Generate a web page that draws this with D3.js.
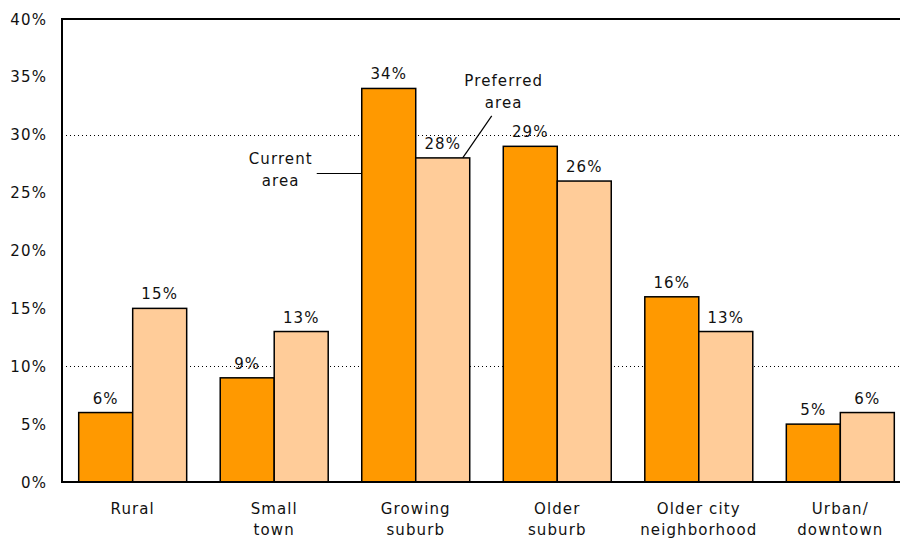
<!DOCTYPE html>
<html>
<head>
<meta charset="utf-8">
<script src="https://cdn.jsdelivr.net/npm/d3@7"></script>
<style>
  body { margin: 0; background: #fff; }
  text { font-family: "DejaVu Sans", Verdana, sans-serif; font-size: 15px; fill: #111; letter-spacing: 1.1px; }
</style>
</head>
<body>
<div id="chart"></div>
<script>
// Chart data
const categories = [["Rural"], ["Small", "town"], ["Growing", "suburb"], ["Older", "suburb"], ["Older city", "neighborhood"], ["Urban/", "downtown"]];
const seriesNames = ["Current area", "Preferred area"];
const currentArea = [6, 9, 34, 29, 16, 5];
const preferredArea = [15, 13, 28, 26, 13, 6];
const yTicks = [0, 5, 10, 15, 20, 25, 30, 35, 40];
const gridLines = [10, 30];

const colors = ["#FF9900", "#FFCC99"];

function drawBarChart() {
  const width = 900, height = 540;
  const margin = { top: 19, bottom: 58, left: 62 };

  const svg = d3.select("#chart").append("svg")
      .attr("width", width)
      .attr("height", height);

  const y = d3.scaleLinear()
      .domain([0, 40])
      .range([height - margin.bottom, margin.top]);

  // plot is wider than the window, the last group is clipped at the right
  const x = d3.scaleBand()
      .domain(d3.range(categories.length))
      .range([margin.left, 911])
      .paddingInner(0.237)
      .paddingOuter(0.118);

  const xSub = d3.scaleBand()
      .domain([0, 1])
      .range([0, x.bandwidth()]);

  // dotted grid lines
  svg.selectAll(".grid")
      .data(gridLines)
      .enter().append("line")
      .attr("x1", margin.left)
      .attr("x2", width)
      .attr("y1", d => Math.round(y(d)) + 0.5)
      .attr("y2", d => Math.round(y(d)) + 0.5)
      .attr("stroke", "#000")
      .attr("stroke-width", 1)
      .attr("stroke-dasharray", "1,3");

  // y axis labels
  svg.selectAll(".ytick")
      .data(yTicks)
      .enter().append("text")
      .attr("x", 47)
      .attr("y", d => y(d) + 5.5)
      .attr("text-anchor", "end")
      .text(d => d + "%");

  const groups = [currentArea, preferredArea];

  // bars
  groups.forEach((vals, s) => {
    svg.selectAll(".bar" + s)
        .data(vals)
        .enter().append("rect")
        .attr("x", (d, i) => x(i) + xSub(s))
        .attr("y", d => y(d))
        .attr("width", xSub.bandwidth())
        .attr("height", d => y(0) - y(d))
        .attr("fill", colors[s])
        .attr("stroke", "#000")
        .attr("stroke-width", 1.5);

    svg.selectAll(".lab" + s)
        .data(vals)
        .enter().append("text")
        .attr("x", (d, i) => x(i) + xSub(s) + xSub.bandwidth() / 2)
        .attr("y", d => y(d) - 9)
        .attr("text-anchor", "middle")
        .text(d => d + "%");
  });

  // axes frame: left and top lines, baseline
  svg.append("line")
      .attr("x1", margin.left).attr("x2", margin.left)
      .attr("y1", y(40)).attr("y2", y(0))
      .attr("stroke", "#000").attr("stroke-width", 2);
  svg.append("line")
      .attr("x1", margin.left - 1).attr("x2", width)
      .attr("y1", y(40)).attr("y2", y(40))
      .attr("stroke", "#000").attr("stroke-width", 2);
  svg.append("line")
      .attr("x1", margin.left - 1).attr("x2", width)
      .attr("y1", y(0)).attr("y2", y(0))
      .attr("stroke", "#000").attr("stroke-width", 2);

  // category labels
  categories.forEach((lines, i) => {
    const t = svg.append("text")
        .attr("x", x(i) + x.bandwidth() / 2)
        .attr("y", y(0) + 32)
        .attr("text-anchor", "middle");
    lines.forEach((l, k) => {
      t.append("tspan")
          .attr("x", x(i) + x.bandwidth() / 2)
          .attr("dy", k === 0 ? 0 : 21)
          .text(l);
    });
  });

  // series annotations on the "Growing suburb" group
  const gi = 2;
  const curX = x(gi) + xSub(0);
  const curY = Math.round(y(26.7)) + 0.5;
  svg.append("line")
      .attr("x1", curX - 45).attr("x2", curX)
      .attr("y1", curY).attr("y2", curY)
      .attr("stroke", "#000").attr("stroke-width", 1.2);
  const ct = svg.append("text").attr("text-anchor", "middle");
  ct.append("tspan").attr("x", curX - 81).attr("y", y(30) + 29).text("Current");
  ct.append("tspan").attr("x", curX - 81).attr("y", y(30) + 51).text("area");

  const prefX = x(gi) + xSub(1) + xSub.bandwidth() - 7;
  const prefY = y(preferredArea[gi]);
  svg.append("line")
      .attr("x1", prefX).attr("x2", prefX + 29)
      .attr("y1", prefY).attr("y2", prefY - 42)
      .attr("stroke", "#000").attr("stroke-width", 1.2);
  const pt = svg.append("text").attr("text-anchor", "middle");
  pt.append("tspan").attr("x", prefX + 41).attr("y", y(35) + 9).text("Preferred");
  pt.append("tspan").attr("x", prefX + 41).attr("y", y(35) + 31).text("area");
}

drawBarChart();
</script>
</body>
</html>
